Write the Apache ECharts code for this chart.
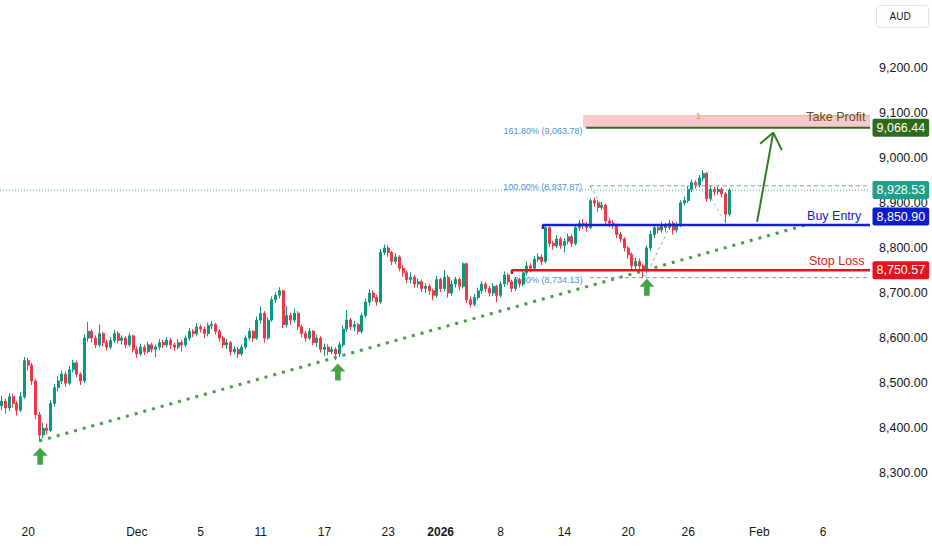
<!DOCTYPE html>
<html><head><meta charset="utf-8">
<script src="https://cdn.jsdelivr.net/npm/echarts@6/dist/echarts.min.js"></script>
<style>html,body{margin:0;padding:0;background:#fff}#c{width:932px;height:550px}</style>
</head><body><div id="c"></div>
<script>
// ---- candle data (one bar per ~6 h) ----
const opens = [8450,8460,8445,8470,8455,8440,8470,8550,8540,8505,8430,8385,8400,8395,8455,8490,8505,8520,8500,8530,
8545,8520,8505,8600,8615,8600,8585,8610,8590,8580,8595,8610,8595,8600,8585,8605,8575,8565,8580,8570,
8585,8575,8580,8590,8585,8595,8585,8580,8590,8585,8600,8615,8610,8625,8620,8610,8628,8630,8615,8600,
8585,8590,8570,8575,8565,8580,8600,8615,8600,8640,8655,8600,8640,8685,8695,8705,8630,8650,8640,8655,
8625,8610,8600,8615,8590,8600,8575,8580,8570,8575,8565,8585,8620,8640,8625,8630,8615,8650,8680,8700,
8690,8680,8790,8800,8790,8770,8780,8755,8745,8730,8735,8720,8725,8710,8715,8705,8695,8730,8710,8735,
8700,8720,8730,8715,8765,8685,8675,8690,8705,8720,8710,8700,8715,8695,8720,8740,8725,8710,8730,8720,
8745,8760,8755,8775,8780,8770,8845,8810,8805,8820,8805,8815,8825,8810,8845,8855,8850,8845,8905,8900,
8890,8895,8860,8855,8850,8830,8820,8800,8785,8760,8770,8760,8750,8800,8830,8845,8840,8850,8845,8855,
8840,8850,8900,8905,8930,8945,8940,8955,8965,8910,8930,8925,8930,8920,8875];
const closes = [8460,8445,8470,8455,8440,8470,8550,8540,8505,8430,8385,8400,8395,8455,8490,8505,8520,8500,8530,8545,
8520,8505,8600,8615,8600,8585,8610,8590,8580,8595,8610,8595,8600,8585,8605,8575,8565,8580,8570,8585,
8575,8580,8590,8585,8595,8585,8580,8590,8585,8600,8615,8610,8625,8620,8610,8628,8630,8615,8600,8585,
8590,8570,8575,8565,8580,8600,8615,8600,8640,8655,8600,8640,8685,8695,8705,8630,8650,8640,8655,8625,
8610,8600,8615,8590,8600,8575,8580,8570,8575,8565,8585,8620,8640,8625,8630,8615,8650,8680,8700,8690,
8680,8790,8800,8790,8770,8780,8755,8745,8730,8735,8720,8725,8710,8715,8705,8695,8730,8710,8735,8700,
8720,8730,8715,8765,8685,8675,8690,8705,8720,8710,8700,8715,8695,8720,8740,8725,8710,8730,8720,8745,
8760,8755,8775,8780,8770,8845,8810,8805,8820,8805,8815,8825,8810,8845,8855,8850,8845,8905,8900,8890,
8895,8860,8855,8850,8830,8820,8800,8785,8760,8770,8760,8750,8800,8830,8845,8840,8850,8845,8855,8840,
8850,8900,8905,8930,8945,8940,8955,8965,8910,8930,8925,8930,8920,8875,8928.53];
const lows = [8440,8432,8438,8446,8428,8436,8465,8528,8496,8420,8370,8378,8386,8392,8448,8482,8498,8492,8495,8524,
8512,8496,8500,8592,8590,8578,8580,8582,8572,8575,8590,8588,8586,8578,8580,8568,8556,8560,8562,8566,
8568,8558,8574,8578,8580,8576,8572,8575,8570,8580,8594,8602,8605,8612,8600,8604,8620,8608,8592,8578,
8576,8562,8564,8556,8560,8575,8595,8592,8596,8632,8590,8596,8636,8678,8688,8622,8624,8630,8634,8618,
8602,8592,8595,8584,8580,8568,8560,8562,8564,8551,8558,8580,8614,8618,8616,8608,8610,8645,8672,8682,
8672,8676,8784,8780,8762,8764,8748,8736,8722,8722,8712,8712,8702,8700,8696,8684,8690,8702,8704,8690,
8694,8712,8706,8710,8678,8668,8670,8684,8698,8702,8692,8694,8680,8690,8714,8718,8702,8704,8712,8715,
8740,8746,8750,8768,8762,8766,8802,8796,8800,8798,8790,8808,8802,8806,8838,8842,8836,8842,8892,8880,
8884,8852,8846,8842,8822,8812,8792,8776,8750,8752,8748,8734,8744,8794,8822,8832,8834,8836,8840,8830,
8834,8846,8894,8900,8924,8932,8934,8948,8902,8904,8916,8918,8912,8855,8870];
const highs = [8472,8466,8478,8476,8460,8480,8558,8556,8545,8510,8436,8412,8410,8462,8498,8516,8528,8526,8538,8552,
8550,8524,8608,8636,8620,8606,8630,8614,8596,8602,8618,8615,8606,8604,8612,8608,8582,8588,8585,8592,
8590,8586,8598,8596,8602,8600,8590,8598,8596,8606,8622,8620,8633,8630,8626,8634,8638,8634,8620,8605,
8598,8594,8582,8580,8586,8606,8622,8618,8648,8670,8660,8646,8692,8702,8713,8708,8672,8656,8666,8660,
8630,8616,8622,8618,8608,8604,8588,8586,8582,8580,8592,8628,8662,8645,8638,8634,8656,8688,8708,8706,
8696,8798,8808,8806,8794,8788,8784,8762,8750,8746,8740,8732,8730,8722,8720,8710,8738,8734,8751,8740,
8728,8736,8734,8768,8768,8692,8698,8712,8726,8724,8716,8722,8718,8726,8748,8744,8730,8736,8734,8752,
8770,8766,8782,8788,8786,8850,8848,8816,8828,8824,8822,8832,8830,8852,8862,8864,8858,8910,8912,8906,
8902,8898,8866,8862,8854,8836,8824,8804,8790,8778,8776,8764,8806,8838,8852,8850,8858,8856,8862,8860,
8858,8906,8914,8938,8952,8950,8962,8973,8968,8938,8936,8936,8934,8924,8932];

// ---- axis ticks ----
const barCount = 232;                       // bars incl. empty future space
const xTickBars   = [7, 36, 53, 69, 86, 103, 117, 133, 150, 167, 183, 202, 219];
const xTickLabels = ['20','Dec','5','11','17','23','2026','8','14','20','26','Feb','6'];
const yMin = 8200, yMax = 9300, yStep = 100;

// ---- drawing levels ----
const takeProfit = 9066.44, buyEntry = 8850.90, stopLoss = 8750.57, lastPrice = 8928.53;
const fib0 = 8734.13, fib100 = 8937.87, fib161 = 9063.78;
const tpZoneTop = 9095, targetDotLevel = 9093;
const trendStart = [10, 8372], trendEnd = [214, 8850];
const arrowBars = [10.2, 89.6, 172.0];
const arrowPrices = [8338, 8525, 8713];
const bigArrowShaft = [[201.4, 8858], [205.7, 9056]];
const bigArrowHead = [[202.2, 9031], [205.7, 9056], [208.0, 9017]];
const fibDiag1 = [[156.8, fib100], [171.5, fib0], [178, 8845]];
const fibDiag2 = [[188.3, 8922], [192.8, 8858]];

const categories = Array.from({length: barCount}, (_, i) => String(i));
const candleData = opens.map((o, i) => [o, closes[i], lows[i], highs[i]]);
const lastIdx = barCount - 0.5;

const FONT = '"Liberation Sans", Arial, sans-serif';
const CLEAR = 'rgba(0,0,0,0)';

function seg(pts, color, width, type, z, extra) {
  return Object.assign({
    type: 'line', xAxisIndex: 1, yAxisIndex: 0, data: pts, symbol: 'none',
    lineStyle: { color: color, width: width, type: type, cap: 'butt', opacity: 1 },
    z: z, silent: true, animation: false, clip: false
  }, extra || {});
}
function txt(pt, text, color, size, pos, z) {
  return {
    type: 'scatter', xAxisIndex: 1, yAxisIndex: 0, data: [pt], symbolSize: 1,
    itemStyle: { color: CLEAR, opacity: 1 }, z: z, silent: true, animation: false, clip: false,
    label: { show: true, formatter: text, color: color, fontSize: size, opacity: 1,
      fontFamily: FONT, position: pos, distance: 0 }
  };
}
function box(price, bg, dy) {
  return {
    type: 'scatter', xAxisIndex: 1, yAxisIndex: 0, data: [[lastIdx, price]], symbolSize: 1,
    itemStyle: { color: CLEAR, opacity: 1 }, z: 10, silent: true, animation: false, clip: false,
    label: { show: true, position: 'right', distance: 2, offset: [0, dy || 0], opacity: 1,
      formatter: price.toLocaleString('en-US', {minimumFractionDigits: 2, maximumFractionDigits: 2}),
      color: '#fff', backgroundColor: bg, padding: [3, 4, 2, 4], borderRadius: 2,
      fontSize: 12.5, fontFamily: FONT, lineHeight: 13 }
  };
}

const chart = echarts.init(document.getElementById('c'), null, { renderer: 'svg' });
const arrowPath = 'path://M8,0 L16,8 L11,8 L11,17 L5,17 L5,8 L0,8 Z';

chart.setOption({
  backgroundColor: '#ffffff',
  animation: false,
  grid: { left: 0, right: 62, top: 22.6, bottom: 31.6 },
  xAxis: [{
    type: 'category', data: categories, boundaryGap: true,
    axisLine: { show: false }, axisTick: { show: false }, splitLine: { show: false },
    axisLabel: {
      margin: 8, color: '#131722', fontSize: 12, fontFamily: FONT,
      interval: (idx) => xTickBars.indexOf(idx) >= 0,
      formatter: (v, idx) => {
        const k = xTickBars.indexOf(idx);
        if (k < 0) return '';
        const s = xTickLabels[k];
        return s === '2026' ? '{b|2026}' : s;
      },
      rich: { b: { fontWeight: 'bold', fontSize: 12, fontFamily: FONT, color: '#131722' } }
    }
  }, {
    type: 'value', show: false, min: -0.5, max: barCount - 0.5
  }],
  yAxis: [{
    type: 'value', position: 'right', min: yMin, max: yMax, interval: yStep, scale: true,
    axisLine: { show: false }, axisTick: { show: false }, splitLine: { show: false },
    axisLabel: {
      margin: 9, color: '#131722', fontSize: 12.5, fontFamily: FONT,
      showMinLabel: false, showMaxLabel: false,
      formatter: v => v.toLocaleString('en-US', {minimumFractionDigits: 2, maximumFractionDigits: 2})
    }
  }],
  series: [
    // fib texts (below candles)
    txt([155.0, 9059.5], '161.80% (9,063.78)', '#4f8fd6', 9, 'left', 1),
    txt([154.9, 8934.6], '100.00% (8,937.87)', '#4f8fd6', 9, 'left', 1),
    txt([155.0, 8729], '0.00% (8,734.13)', '#4f8fd6', 9, 'left', 1),
    // take-profit zone
    seg([[155, tpZoneTop], [lastIdx, tpZoneTop]], CLEAR, 0, 'solid', 1, {
      markArea: { silent: true, itemStyle: { color: 'rgba(242,54,69,0.27)' },
        data: [[{ coord: [155, tpZoneTop] }, { coord: [lastIdx, takeProfit] }]] }
    }),
    // fib dashed lines
    seg([[156.8, fib100], [lastIdx, fib100]], '#8596b3', 1, [4, 3], 1),
    seg([[156.8, fib0], [lastIdx, fib0]], '#8596b3', 1, [4, 3], 1),
    seg(fibDiag1, '#9aa0a8', 1, [3, 3], 1),
    seg(fibDiag2, '#f2a3aa', 1, [3, 3], 1),
    // last price dotted
    seg([[-0.5, lastPrice], [lastIdx, lastPrice]], '#2ab39b', 1, [1, 2], 1),
    // candles
    {
      type: 'candlestick', xAxisIndex: 0, yAxisIndex: 0, data: candleData, z: 2,
      barWidth: '68%',
      itemStyle: { color: '#089981', color0: '#f23645', borderColor: '#089981', borderColor0: '#f23645', borderWidth: 1 }
    },
    // trendline
    seg([trendStart, trendEnd], '#43a047', 3, [3, 6], 3),
    // levels
    seg([[155.8, takeProfit], [lastIdx, takeProfit]], '#2f6b1e', 2, 'solid', 4),
    seg([[186, targetDotLevel], [lastIdx, targetDotLevel]], '#f0a040', 1, [2, 2], 4),
    seg([[144.3, 8842], [144.3, buyEntry], [lastIdx, buyEntry]], '#1424c8', 2.5, 'solid', 4),
    seg([[136.0, 8742], [136.0, stopLoss], [lastIdx, stopLoss]], '#e0161c', 2.5, 'solid', 4),
    // big projection arrow
    seg(bigArrowShaft, '#2e7d1f', 2, 'solid', 5),
    seg(bigArrowHead, '#2e7d1f', 2, 'solid', 5),
    // green up arrows
    {
      type: 'scatter', xAxisIndex: 1, yAxisIndex: 0, z: 5, silent: true, animation: false,
      data: arrowBars.map((b, i) => [b, arrowPrices[i]]),
      symbol: arrowPath, symbolSize: [15, 17], itemStyle: { color: '#43a447', opacity: 1 }
    },
    // texts
    txt([230.4, 9090.6], 'Take Profit', '#5c5418', 12.5, 'left', 6),
    txt([229.3, 8871.6], 'Buy Entry', '#1424c8', 12.5, 'left', 6),
    txt([230.2, 8771], 'Stop Loss', '#e0161c', 12.5, 'left', 6),
    txt([185.7, targetDotLevel], '1', '#e8962e', 9, 'inside', 6),
    // price boxes
    box(takeProfit, '#2e6a1b', 0),
    box(lastPrice, '#1fa08a', 0),
    box(buyEntry, '#0c1ec8', -8.5),
    box(stopLoss, '#e5141c', 0)
  ],
  graphic: [{
    type: 'group', left: 876, top: 5,
    children: [
      { type: 'rect', shape: { x: 0, y: 0, width: 52, height: 22, r: 3 },
        style: { fill: '#fff', stroke: '#e0e3eb', lineWidth: 1 } },
      { type: 'text', x: 13, y: 11, style: { text: 'AUD', fill: '#131722', font: '10px ' + FONT, verticalAlign: 'middle' } }
    ]
  }]
});
</script></body></html>
